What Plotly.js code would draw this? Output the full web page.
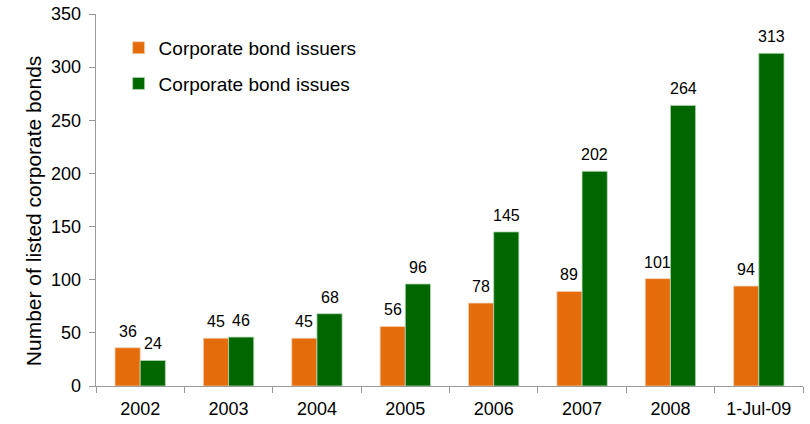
<!DOCTYPE html>
<html>
<head>
<meta charset="utf-8">
<script src="https://cdn.plot.ly/plotly-3.0.1.min.js"></script>
<style>html,body{margin:0;padding:0;background:#fff;}#chart{width:810px;height:424px;}</style>
</head>
<body>
<div id="chart"></div>
<script>
const categories = ["2002","2003","2004","2005","2006","2007","2008","1-Jul-09"];
const issuers = [36,45,45,56,78,89,101,94];
const issues = [24,46,68,96,145,202,264,313];
const yTicks = [0,50,100,150,200,250,300,350];
const yTitle = "Number of listed corporate bonds";

const font = "Liberation Sans, Arial, sans-serif";
const traces = [
  {type:"bar", name:"Corporate bond issuers", x:categories, y:issuers,
   marker:{color:"#E46C0A", line:{color:"#f3d0b5", width:0.8}}, legendgroup:"a"},
  {type:"bar", name:"Corporate bond issues", x:categories, y:issues,
   marker:{color:"#006600", line:{color:"#b5d6b5", width:0.8}}, legendgroup:"b"}
];
const bargap = 0.43;
const half = (1 - bargap) / 4;   // offset of each bar centre from the category centre, in category units
const labelFont = {family:font, size:16, color:"#000"};
const annotations = [];
categories.forEach((c, i) => {
  annotations.push({x:i - half, y:issuers[i], xref:"x", yref:"y", text:String(issuers[i]), showarrow:false,
    yshift:6, yanchor:"bottom", font:labelFont});
  annotations.push({x:i + half, y:issues[i], xref:"x", yref:"y", text:String(issues[i]), showarrow:false,
    yshift:6, yanchor:"bottom", font:labelFont});
});
annotations.push({xref:"paper", yref:"paper", x:0, y:0.47, xshift:-63, textangle:-90, text:yTitle,
  showarrow:false, xanchor:"center", yanchor:"middle", font:{family:font,size:21,color:"#000"}});
const layout = {
  width:810, height:424,
  margin:{l:96, r:7, t:14, b:38},
  paper_bgcolor:"#fff", plot_bgcolor:"#fff",
  font:{family:font, size:17, color:"#000"},
  barmode:"group", bargap:bargap, bargroupgap:0,
  showlegend:true,
  annotations:annotations,
  legend:{x:0.032, y:0.96, xanchor:"left", yanchor:"top", font:{family:font,size:19,color:"#000"},
          tracegroupgap:8, bgcolor:"rgba(0,0,0,0)", itemwidth:30},
  xaxis:{type:"category", categoryarray:categories, categoryorder:"array", range:[-0.5, categories.length - 0.5],
         showline:true, linecolor:"#999", linewidth:1.3, ticks:"outside", tickson:"boundaries",
         ticklen:6, tickcolor:"#999", showgrid:false, tickfont:{family:font,size:18,color:"#000"}, ticklabelstandoff:6},
  yaxis:{range:[0,350], tickvals:yTicks, showline:true, linecolor:"#999", linewidth:1.3, ticks:"outside",
         ticklen:6, tickcolor:"#999", showgrid:false, zeroline:false, tickfont:{family:font,size:18,color:"#000"},
         ticklabelstandoff:4}
};
Plotly.newPlot("chart", traces, layout, {displayModeBar:false, staticPlot:true});
</script>
</body>
</html>
